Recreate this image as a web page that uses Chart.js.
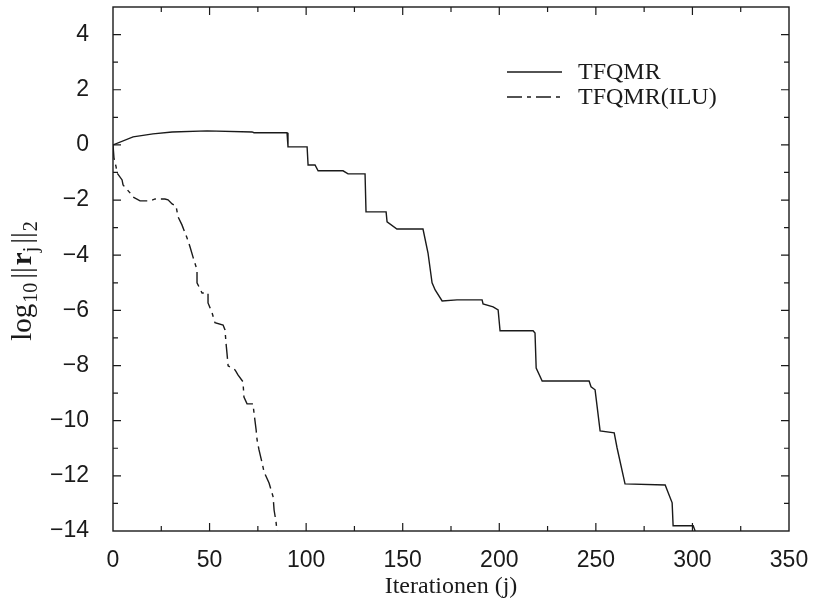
<!DOCTYPE html>
<html><head><meta charset="utf-8">
<script src="https://cdn.jsdelivr.net/npm/chart.js@4/dist/chart.umd.min.js"></script>
<style>html,body{margin:0;padding:0;background:#fff}#wrap{width:813px;height:602px}</style>
</head><body><div id="wrap"><canvas id="c" width="813" height="602"></canvas></div>
<script>
// ---- data ----
const seriesNames = ['TFQMR', 'TFQMR(ILU)'];
const tfqmrX = [0, 10.4, 20.7, 30.6, 48.7, 72, 73, 90.1, 90.6, 100.5, 101, 104.6, 106.2, 119.1, 121.7, 130.5, 131, 141.4, 141.9, 147, 160.5, 163.1, 165.2, 166.8, 170.4, 178.1, 191.1, 191.6, 196.8, 199.4, 200.4, 217.5, 218.5, 219.1, 222.2, 246.5, 247.5, 249.6, 252.2, 259.5, 261, 265.1, 285.9, 286.9, 289.5, 290, 300.4, 301.4];
const tfqmrY = [0, 0.29, 0.40, 0.47, 0.51, 0.47, 0.44, 0.44, -0.07, -0.07, -0.73, -0.73, -0.94, -0.94, -1.05, -1.05, -2.43, -2.43, -2.79, -3.05, -3.05, -3.92, -5.0, -5.26, -5.66, -5.62, -5.62, -5.77, -5.87, -5.98, -6.74, -6.74, -6.82, -8.09, -8.56, -8.56, -8.77, -8.88, -10.37, -10.44, -10.99, -12.29, -12.33, -12.51, -12.98, -13.81, -13.81, -14];
const iluX = [0, 0.5, 1.6, 2.1, 4.7, 5.2, 8.8, 10.4, 14, 19.2, 21.8, 26.9, 28.5, 30.6, 32.6, 33.7, 35.7, 37.3, 38.3, 39.9, 41.4, 43.5, 43.5, 46.1, 49.2, 49.2, 51.3, 52.8, 57, 58, 58.5, 59, 59.6, 63.2, 64.7, 67.3, 67.8, 69.4, 72.5, 73, 74.1, 74.6, 75.6, 77.2, 78.2, 80.8, 82.9, 83.4, 84.4, 84.9];
const iluY = [0, -0.47, -0.8, -1.02, -1.27, -1.45, -1.74, -1.89, -2.03, -2.03, -1.96, -1.96, -1.99, -2.14, -2.21, -2.61, -2.9, -3.19, -3.37, -3.7, -4.06, -4.53, -5.0, -5.37, -5.37, -5.73, -6.09, -6.45, -6.53, -6.71, -7.18, -7.54, -8.01, -8.16, -8.34, -8.59, -9.14, -9.39, -9.39, -9.72, -10.33, -10.7, -11.06, -11.53, -11.86, -12.26, -12.76, -13.24, -13.67, -14];
const xTickValues = [0, 50, 100, 150, 200, 250, 300, 350];
const xMinorTicks = [25, 75, 125, 175, 225, 275, 325];
const yTickValues = [4, 2, 0, -2, -4, -6, -8, -10, -12, -14];
const yMinorTicks = [5, 3, 1, -1, -3, -5, -7, -9, -11, -13];
const xTitle = 'Iterationen (j)';

const INK = '#1a1a1a';
const fmt = v => (v < 0 ? '\u2212' + Math.abs(v) : String(v));
const SERIF = '"Liberation Serif", "Times New Roman", serif';

const decor = {
  id: 'decor',
  afterDraw(chart) {
    const ctx = chart.ctx, a = chart.chartArea;
    const xs = chart.scales.x, ys = chart.scales.y;
    ctx.save();
    ctx.strokeStyle = INK;
    ctx.lineWidth = 1.4;
    ctx.strokeRect(a.left, a.top, a.right - a.left, a.bottom - a.top);
    ctx.lineWidth = 1.2;
    ctx.beginPath();
    const tick = (vals, len) => {
      vals.forEach(v => {
        const px = xs.getPixelForValue(v);
        ctx.moveTo(px, a.bottom); ctx.lineTo(px, a.bottom - len);
        ctx.moveTo(px, a.top); ctx.lineTo(px, a.top + len);
      });
    };
    const ytick = (vals, len) => {
      vals.forEach(v => {
        const py = ys.getPixelForValue(v);
        ctx.moveTo(a.left, py); ctx.lineTo(a.left + len, py);
        ctx.moveTo(a.right, py); ctx.lineTo(a.right - len, py);
      });
    };
    tick(xTickValues.slice(1, -1), 8); tick(xMinorTicks, 5);
    ytick(yTickValues.slice(0, -1), 8); ytick(yMinorTicks.slice(1), 5);
    ctx.stroke();

    // legend
    const lx0 = 507, lx1 = 562, tx = 578;
    const rows = [[72, []], [97, [15, 5, 4, 5]]];
    ctx.font = '24px ' + SERIF;
    ctx.fillStyle = INK;
    ctx.textBaseline = 'middle';
    ctx.textAlign = 'left';
    rows.forEach(([y, dash], i) => {
      ctx.setLineDash(dash);
      ctx.lineWidth = 1.4;
      ctx.beginPath(); ctx.moveTo(lx0, y); ctx.lineTo(lx1, y); ctx.stroke();
      ctx.setLineDash([]);
      ctx.fillText(seriesNames[i], tx, y + 1);
    });

    // x title
    ctx.textAlign = 'center';
    ctx.textBaseline = 'alphabetic';
    ctx.font = '24px ' + SERIF;
    ctx.fillText(xTitle, (a.left + a.right) / 2, 593);

    // y title: log10 ||r_j||_2
    ctx.save();
    ctx.translate(31, 281);
    ctx.rotate(-Math.PI / 2);
    const big = '29px ' + SERIF;
    const bigB = 'bold 29px ' + SERIF;
    const small = '20px ' + SERIF;
    const parts = [['log', big, 0, 1], ['10', small, 6, 4], ['||', big, 0, 2], ['r', bigB, 0, 0], ['j', small, 6, 3], ['||', big, 0, 1], ['2', small, 6, 0]];
    let w = 0;
    parts.forEach(p => { ctx.font = p[1]; w += ctx.measureText(p[0]).width + p[3]; });
    let x = -w / 2;
    ctx.textAlign = 'left';
    parts.forEach(p => { ctx.font = p[1]; ctx.fillText(p[0], x, p[2]); x += ctx.measureText(p[0]).width + p[3]; });
    ctx.restore();
    ctx.restore();
  }
};

new Chart(document.getElementById('c'), {
  type: 'line',
  data: {
    datasets: [
      { label: seriesNames[0], data: tfqmrX.map((x, i) => ({ x, y: tfqmrY[i] })), borderColor: INK, borderWidth: 1.4, pointRadius: 0, tension: 0, fill: false },
      { label: seriesNames[1], data: iluX.map((x, i) => ({ x, y: iluY[i] })), borderColor: INK, borderWidth: 1.4, borderDash: [15, 5, 4, 5], pointRadius: 0, tension: 0, fill: false }
    ]
  },
  options: {
    responsive: false, animation: false, devicePixelRatio: 1,
    layout: { padding: { left: 0, right: 24, top: 7, bottom: 0 } },
    plugins: { legend: { display: false }, tooltip: { enabled: false } },
    scales: {
      x: {
        type: 'linear', min: 0, max: 350,
        grid: { display: false }, border: { display: false },
        afterBuildTicks: s => { s.ticks = xTickValues.map(v => ({ value: v })); },
        afterFit: s => { s.height = 71; s.paddingLeft = 0; s.paddingRight = 0; },
        ticks: { padding: 8, color: INK, maxRotation: 0, autoSkip: false, callback: v => fmt(v), font: { family: '"Liberation Sans", Arial, sans-serif', size: 23 } }
      },
      y: {
        type: 'linear', min: -14, max: 5,
        grid: { display: false }, border: { display: false },
        afterBuildTicks: s => { s.ticks = yTickValues.map(v => ({ value: v })); },
        afterFit: s => { s.width = 113; s.paddingTop = 0; s.paddingBottom = 0; },
        ticks: { padding: 16, color: INK, autoSkip: false, callback: v => fmt(v), font: { family: '"Liberation Sans", Arial, sans-serif', size: 23 } }
      }
    }
  },
  plugins: [decor]
});
</script>
</body></html>
